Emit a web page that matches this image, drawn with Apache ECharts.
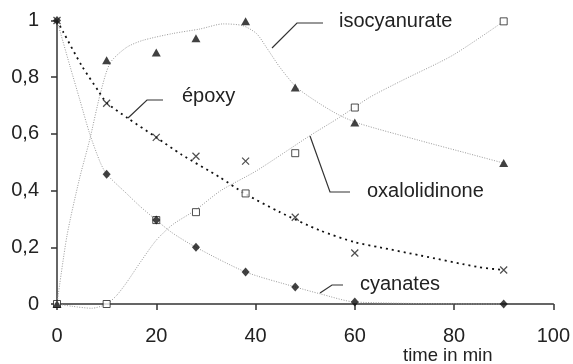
<!DOCTYPE html>
<html>
<head>
<meta charset="utf-8">
<script src="https://cdn.jsdelivr.net/npm/echarts@6/dist/echarts.min.js"></script>
<style>
  html, body { margin: 0; padding: 0; background: #fff; }
  #chart { width: 573px; height: 364px; }
</style>
</head>
<body>
<div id="chart"></div>
<script>
// Sampling times (min)
var times = [0, 10, 20, 28, 38, 48, 60, 90];

// Measured fractions
var isocyanurate = [0, 0.86, 0.887, 0.937, 0.997, 0.764, 0.64, 0.497];
var epoxy = [1, 0.708, 0.588, 0.521, 0.504, 0.306, 0.18, 0.12];
var oxalolidinone = [0, 0, 0.296, 0.324, 0.39, 0.532, 0.693, 0.997];
var cyanates = [1, 0.458, 0.296, 0.2, 0.113, 0.06, 0.007, 0];

// Guide curves drawn through / near the measurements: [time, fraction]
var isocyanurateCurve = [
  [0, 0], [2, 0.24], [4.5, 0.44], [6.6, 0.58], [8.7, 0.74], [10.7, 0.85],
  [14, 0.905], [17.3, 0.93], [23.3, 0.954], [28.8, 0.97], [33.5, 0.988],
  [37.4, 0.982], [40.2, 0.954], [42.2, 0.905], [44.9, 0.835], [48.3, 0.764],
  [52.9, 0.707], [57, 0.665], [61, 0.636], [73, 0.577], [83, 0.53], [90, 0.497]
];
var epoxyCurve = [
  [0, 1], [1.3, 0.958], [5, 0.84], [8.4, 0.75], [10, 0.71], [14.3, 0.655],
  [20, 0.588], [25, 0.528], [32.8, 0.447], [37.8, 0.39], [44.9, 0.324],
  [52.9, 0.26], [60, 0.218], [65, 0.2], [73, 0.172], [85, 0.13], [90, 0.12]
];
var oxalolidinoneCurve = [
  [0, 0], [3, -0.008], [7, -0.015], [10, 0], [12, 0.03], [14, 0.075],
  [16.7, 0.145], [20, 0.225], [23.3, 0.28], [27.8, 0.33], [33, 0.4],
  [40.2, 0.47], [50.8, 0.592], [56.9, 0.658], [63, 0.729], [69.6, 0.789],
  [79.7, 0.877], [90, 0.997]
];
var cyanatesCurve = [
  [0, 1], [2.6, 0.84], [4.6, 0.72], [6.6, 0.6], [8.7, 0.5], [10, 0.458],
  [14, 0.39], [16.7, 0.345], [20, 0.296], [23.3, 0.25], [28, 0.2],
  [38, 0.113], [48, 0.06], [53, 0.036], [60, 0.007], [90, 0]
];

// Axis ticks
var xTicks = [0, 20, 40, 60, 80, 100];
var yTicks = [0, 0.2, 0.4, 0.6, 0.8, 1];

var FONT = 'Liberation Sans, Arial, sans-serif';
var INK = '#222';
var GREY = '#9a9a9a';

function pairs(values) {
  return times.map(function (t, i) { return [t, values[i]]; });
}

function guide(data, color, width, dash) {
  return {
    type: 'line', data: data, smooth: 0.25,
    showSymbol: false, symbol: 'none', clip: false, silent: true, z: 2,
    lineStyle: { color: color, width: width, type: dash }
  };
}

function marks(values, symbol, size, style) {
  return {
    type: 'scatter', data: pairs(values), symbol: symbol, symbolSize: size,
    itemStyle: style, clip: false, z: 5
  };
}

var chart = echarts.init(document.getElementById('chart'), null, { renderer: 'canvas' });

chart.setOption({
  animation: false,
  backgroundColor: '#fff',
  grid: { left: 57, right: 19, top: 20.5, bottom: 60, containLabel: false },
  xAxis: {
    type: 'value', min: xTicks[0], max: xTicks[xTicks.length - 1], interval: 20,
    axisLine: { show: true, onZero: false, lineStyle: { color: '#333', width: 1.5 } },
    axisTick: { show: true, inside: false, length: 6, lineStyle: { color: '#333', width: 1.5 } },
    axisLabel: { margin: 22, fontSize: 20, color: INK, fontFamily: FONT },
    splitLine: { show: false }
  },
  yAxis: {
    type: 'value', min: yTicks[0], max: yTicks[yTicks.length - 1], interval: 0.2,
    axisLine: { show: true, onZero: false, lineStyle: { color: '#333', width: 1.5 } },
    axisTick: { show: true, inside: false, length: 6, lineStyle: { color: '#333', width: 1.5 } },
    axisLabel: {
      margin: 18, fontSize: 20, color: INK, fontFamily: FONT,
      formatter: function (v) { return String(+v.toFixed(1)).replace('.', ','); }
    },
    splitLine: { show: false }
  },
  series: [
    guide(isocyanurateCurve, GREY, 1, [1, 1.5]),
    guide(oxalolidinoneCurve, GREY, 1, [1, 1.5]),
    guide(cyanatesCurve, GREY, 1, [1, 1.5]),
    guide(epoxyCurve, '#111', 1.8, [2, 4]),
    marks(oxalolidinone, 'rect', 7, { color: '#fff', borderColor: '#222', borderWidth: 1 }),
    marks(isocyanurate, 'triangle', [9, 8], { color: '#111' }),
    marks(cyanates, 'diamond', [8, 9], { color: '#111' }),
    marks(epoxy, 'path://M0,0L10,10M10,0L0,10', 7,
      { color: 'none', borderColor: '#222', borderWidth: 1.2 })
  ],
  graphic: [
    // leader lines and series names
    { type: 'polyline', z: 10, shape: { points: [[323, 23], [297, 23], [272, 48]] },
      style: { stroke: '#333', lineWidth: 1.2, fill: null } },
    { type: 'text', z: 10, left: 339, top: 11,
      style: { text: 'isocyanurate', fontSize: 20, fontFamily: FONT, fill: INK } },

    { type: 'polyline', z: 10, shape: { points: [[163, 100], [147, 100], [128, 118]] },
      style: { stroke: '#333', lineWidth: 1.2, fill: null } },
    { type: 'text', z: 10, left: 182, top: 86,
      style: { text: 'époxy', fontSize: 20, fontFamily: FONT, fill: INK } },

    { type: 'polyline', z: 10, shape: { points: [[350, 192], [330, 192], [310, 136]] },
      style: { stroke: '#333', lineWidth: 1.2, fill: null } },
    { type: 'text', z: 10, left: 367, top: 181,
      style: { text: 'oxalolidinone', fontSize: 20, fontFamily: FONT, fill: INK } },

    { type: 'polyline', z: 10, shape: { points: [[343, 285], [332, 285], [320, 293]] },
      style: { stroke: '#333', lineWidth: 1.2, fill: null } },
    { type: 'text', z: 10, left: 360, top: 274,
      style: { text: 'cyanates', fontSize: 20, fontFamily: FONT, fill: INK } },

    // axis title
    { type: 'text', z: 10, left: 403, top: 346,
      style: { text: 'time in min', fontSize: 18.5, fontFamily: FONT, fill: INK } }
  ]
});
</script>
</body>
</html>
